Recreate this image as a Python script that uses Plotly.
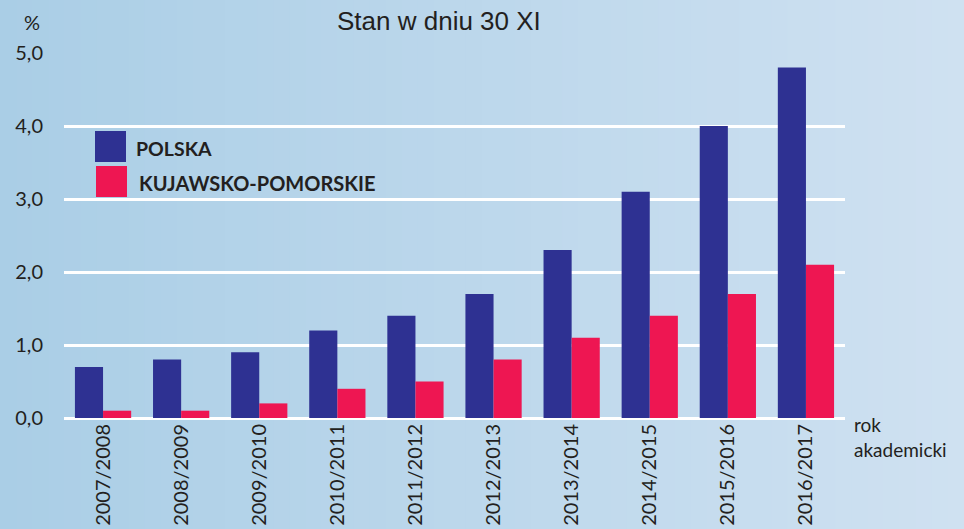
import plotly.graph_objects as go

years = ["2007/2008", "2008/2009", "2009/2010", "2010/2011", "2011/2012",
         "2012/2013", "2013/2014", "2014/2015", "2015/2016", "2016/2017"]
polska = [0.7, 0.8, 0.9, 1.2, 1.4, 1.7, 2.3, 3.1, 4.0, 4.8]
kujawsko = [0.1, 0.1, 0.2, 0.4, 0.5, 0.8, 1.1, 1.4, 1.7, 2.1]

BLUE = "#2e3192"
RED = "#ee1652"
TXT = "#231f20"
FONT = "Lato"

fig = go.Figure()
fig.add_trace(go.Bar(x=years, y=polska, name="POLSKA", marker=dict(color=BLUE, line=dict(width=0))))
fig.add_trace(go.Bar(x=years, y=kujawsko, name="KUJAWSKO-POMORSKIE", marker=dict(color=RED, line=dict(width=0))))

W, H = 964, 529
ml, mr, mt, mb = 64, 119, 53, 111
pw, ph = W - ml - mr, H - mt - mb

def px(x):
    return (x - ml) / pw

def py(y):
    return (H - mb - y) / ph

shapes = []
# background gradient
n = 60
c0 = (170, 206, 230)
c1 = (207, 225, 241)
for i in range(n):
    t = i / (n - 1)
    col = "rgb(%d,%d,%d)" % tuple(round(a + (b - a) * t) for a, b in zip(c0, c1))
    x0 = W * i / n
    x1 = W * (i + 1) / n + 1
    shapes.append(dict(type="rect", xref="paper", yref="paper", x0=px(x0), x1=px(x1),
                       y0=py(H), y1=py(0), fillcolor=col, line=dict(width=0), layer="below"))
# legend swatches
shapes.append(dict(type="rect", xref="paper", yref="paper", x0=px(95), x1=px(126), y0=py(162), y1=py(131),
                   fillcolor=BLUE, line=dict(width=0)))
shapes.append(dict(type="rect", xref="paper", yref="paper", x0=px(96), x1=px(127), y0=py(197), y1=py(166),
                   fillcolor=RED, line=dict(width=0)))

annotations = [
    dict(text="Stan w dniu 30 XI", xref="paper", yref="paper", x=px(439), y=py(21), showarrow=False,
         font=dict(family="Liberation Sans", size=26, color=TXT), xanchor="center", yanchor="middle"),
    dict(text="%", xref="paper", yref="paper", x=px(32), y=py(22), showarrow=False,
         font=dict(family=FONT, size=20, color=TXT), xanchor="center", yanchor="middle"),
    dict(text="POLSKA", xref="paper", yref="paper", x=px(134), y=py(148), showarrow=False,
         font=dict(family=FONT, size=19.5, color=TXT, weight="bold"), xanchor="left", yanchor="middle"),
    dict(text="KUJAWSKO-POMORSKIE", xref="paper", yref="paper", x=px(137), y=py(183), showarrow=False,
         font=dict(family=FONT, size=20, color=TXT, weight="bold"), xanchor="left", yanchor="middle"),
    dict(text="rok<br>akademicki", xref="paper", yref="paper", x=px(852), y=py(437), showarrow=False,
         font=dict(family=FONT, size=19, color=TXT), xanchor="left", yanchor="middle", align="left"),
]

fig.update_layout(
    width=W, height=H,
    margin=dict(l=ml, r=mr, t=mt, b=mb, pad=0, autoexpand=False),
    paper_bgcolor="#bcd7ec", plot_bgcolor="rgba(0,0,0,0)",
    barmode="group", bargap=0.28, bargroupgap=0,
    showlegend=False,
    separators=", ",
    shapes=shapes, annotations=annotations,
    xaxis=dict(tickangle=-90, tickfont=dict(family=FONT, size=20, color=TXT), showgrid=False,
               ticks="", showline=False, zeroline=False, automargin=False, ticklabelstandoff=1),
    yaxis=dict(range=[0, 5.0], dtick=1, tickformat=".1f", showgrid=True, gridcolor="white", gridwidth=2.5,
               zeroline=True, zerolinecolor="white", zerolinewidth=3, ticks="", showline=False,
               automargin=False,
               tickfont=dict(family=FONT, size=20, color=TXT), ticklabelstandoff=20),
)

fig.write_html("out.html", config={"displayModeBar": False},
               post_script="document.body.style.margin='0px';document.body.style.overflow='hidden';")
